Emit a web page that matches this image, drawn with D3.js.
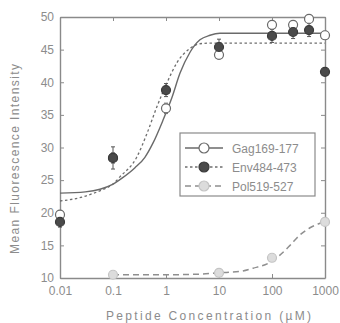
<!DOCTYPE html>
<html>
<head>
<meta charset="utf-8">
<script src="https://cdn.jsdelivr.net/npm/d3@7"></script>
<style>
  body { margin: 0; background: #fff; }
  svg { display: block; font-family: "Liberation Sans", Arial, sans-serif; }
</style>
</head>
<body>
<div id="chart"></div>
<script>
// peptide concentrations (uM)
const gagConc = [0.01, 0.1, 1, 10, 100, 250, 500, 1000];
const gagValues = [19.7, 28.4, 36.0, 44.2, 48.8, 48.8, 49.7, 47.2];
const gagErr = [0.6, 0.8, 0.8, 0.6, 0.6, 0.6, 0.6, 0.6];

const envConc = [0.01, 0.1, 1, 10, 100, 250, 500, 1000];
const envValues = [18.6, 28.4, 38.8, 45.4, 47.1, 47.7, 48.0, 41.6];
const envErr = [0.8, 1.7, 1.0, 1.2, 1.0, 1.0, 1.0, 0.5];

const polConc = [0.1, 10, 100, 1000];
const polValues = [10.5, 10.8, 13.1, 18.6];

// fitted curves
const gagFitConc = [0.01, 0.03, 0.057, 0.096, 0.148, 0.26, 0.40, 0.57, 0.88, 1.3, 1.84, 2.84, 4.37, 6.76, 10.4, 100, 1000];
const gagFitValues = [23.0, 23.2, 23.6, 24.3, 25.3, 26.9, 28.5, 30.7, 34.2, 37.7, 41.4, 44.6, 46.5, 47.2, 47.5, 47.5, 47.5];
const envFitConc = [0.01, 0.026, 0.04, 0.062, 0.1, 0.135, 0.28, 0.44, 0.67, 1.04, 1.61, 2.84, 4.37, 6.76, 100, 1000];
const envFitValues = [21.8, 22.4, 22.9, 23.5, 24.4, 25.5, 28.5, 32.2, 36.2, 39.9, 43.0, 45.2, 45.9, 46.0, 46.0, 46.0];
const polFitConc = [0.1, 1, 4.4, 10, 25, 44, 92, 141, 219, 337, 521, 806, 1000];
const polFitValues = [10.5, 10.5, 10.6, 10.8, 11.0, 11.5, 12.4, 13.5, 15.0, 16.6, 17.7, 18.4, 18.7];

const xTicks = [0.01, 0.1, 1, 10, 100, 1000];
const xTickLabels = ["0.01", "0.1", "1", "10", "100", "1000"];
const yTicks = [10, 15, 20, 25, 30, 35, 40, 45, 50];

const legendNames = ["Gag169-177", "Env484-473", "Pol519-527"];

const W = 340, H = 323;
const M = { left: 60, right: 15, top: 17, bottom: 45 };
const AXIS = "#8a8a8a";
const TEXT = "#8c8c8c";

const svg = d3.select("#chart").append("svg")
  .attr("width", W).attr("height", H);

svg.append("rect").attr("width", W).attr("height", H).attr("fill", "#fff");

const x = d3.scaleLog().domain([0.01, 1000]).range([M.left, W - M.right]);
const y = d3.scaleLinear().domain([10, 50]).range([H - M.bottom, M.top]);

// axes (ticks inward on all four sides)
const fmt = d => xTickLabels[xTicks.indexOf(d)];
svg.append("g").attr("class", "x-axis")
  .attr("transform", `translate(0,${y(10)})`)
  .call(d3.axisBottom(x).tickValues(xTicks).tickFormat(fmt).tickSizeInner(-4).tickSizeOuter(0).tickPadding(8));
svg.append("g")
  .attr("transform", `translate(0,${y(50)})`)
  .call(d3.axisTop(x).tickValues(xTicks).tickFormat("").tickSizeInner(-4).tickSizeOuter(0));
svg.append("g").attr("class", "y-axis")
  .attr("transform", `translate(${x(0.01)},0)`)
  .call(d3.axisLeft(y).tickValues(yTicks).tickSizeInner(-4).tickSizeOuter(0).tickPadding(6));
svg.append("g")
  .attr("transform", `translate(${x(1000)},0)`)
  .call(d3.axisRight(y).tickValues(yTicks).tickFormat("").tickSizeInner(-4).tickSizeOuter(0));

svg.selectAll(".domain").attr("stroke", AXIS).attr("stroke-width", 1.4);
svg.selectAll(".tick line").attr("stroke", AXIS).attr("stroke-width", 1);
svg.selectAll(".tick text").attr("fill", TEXT).attr("font-size", "12px");

// axis titles
svg.append("text")
  .attr("x", (x(0.01) + x(1000)) / 2 + 16)
  .attr("y", 320)
  .attr("text-anchor", "middle")
  .attr("font-size", "12px")
  .attr("fill", TEXT)
  .attr("textLength", 205)
  .text("Peptide Concentration (\u00b5M)");
svg.append("text")
  .attr("transform", `translate(19,${159}) rotate(-90)`)
  .attr("text-anchor", "middle")
  .attr("font-size", "12px")
  .attr("fill", TEXT)
  .attr("textLength", 190)
  .text("Mean Fluorescence Intensity");

// fitted curves
const line = d3.line().x(d => x(d[0])).y(d => y(d[1])).curve(d3.curveMonotoneX);
const zip = (a, b) => a.map((v, i) => [v, b[i]]);

svg.append("path").datum(zip(polFitConc, polFitValues))
  .attr("fill", "none").attr("stroke", "#8f8f8f").attr("stroke-width", 1.5)
  .attr("stroke-dasharray", "6,4").attr("d", line);
svg.append("path").datum(zip(envFitConc, envFitValues))
  .attr("fill", "none").attr("stroke", "#6e6e6e").attr("stroke-width", 1.3)
  .attr("stroke-dasharray", "2.5,2.5").attr("d", line);
svg.append("path").datum(zip(gagFitConc, gagFitValues))
  .attr("fill", "none").attr("stroke", "#6a6a6a").attr("stroke-width", 1.4).attr("d", line);

// error bars
function errorBars(conc, vals, errs, color) {
  const g = svg.append("g").attr("stroke", color).attr("stroke-width", 1);
  conc.forEach((c, i) => {
    const cx = x(c), y1 = y(vals[i] - errs[i]), y2 = y(vals[i] + errs[i]);
    g.append("line").attr("x1", cx).attr("x2", cx).attr("y1", y1).attr("y2", y2);
    g.append("line").attr("x1", cx - 2).attr("x2", cx + 2).attr("y1", y1).attr("y2", y1);
    g.append("line").attr("x1", cx - 2).attr("x2", cx + 2).attr("y1", y2).attr("y2", y2);
  });
}
errorBars(gagConc, gagValues, gagErr, "#777");
errorBars(envConc, envValues, envErr, "#555");

// markers
const styles = [
  { fill: "#fff", stroke: "#6a6a6a" },
  { fill: "#4a4a4a", stroke: "#3a3a3a" },
  { fill: "#dcdcdc", stroke: "#c4c4c4" }
];
function dots(conc, vals, st) {
  svg.append("g").selectAll("circle")
    .data(zip(conc, vals))
    .enter().append("circle")
    .attr("cx", d => x(d[0]))
    .attr("cy", d => y(d[1]))
    .attr("r", 4.5)
    .attr("fill", st.fill)
    .attr("stroke", st.stroke)
    .attr("stroke-width", 1.2);
}
dots(polConc, polValues, styles[2]);
dots(gagConc, gagValues, styles[0]);
dots(envConc, envValues, styles[1]);

// legend
const lg = svg.append("g").attr("transform", "translate(180,133)");
lg.append("rect").attr("width", 135).attr("height", 63)
  .attr("fill", "#fff").attr("stroke", AXIS).attr("stroke-width", 1.2);
const dashes = [null, "2.5,2.5", "6,4"];
const lineCols = ["#6a6a6a", "#6e6e6e", "#8f8f8f"];
legendNames.forEach((name, i) => {
  const ly = 15 + i * 19;
  lg.append("line").attr("x1", 5).attr("x2", 43).attr("y1", ly).attr("y2", ly)
    .attr("stroke", lineCols[i]).attr("stroke-width", 1.3)
    .attr("stroke-dasharray", dashes[i]);
  lg.append("circle").attr("cx", 24).attr("cy", ly).attr("r", 5)
    .attr("fill", styles[i].fill).attr("stroke", styles[i].stroke).attr("stroke-width", 1.2);
  lg.append("text").attr("x", 52).attr("y", ly + 4.5)
    .attr("font-size", "12px").attr("fill", TEXT).text(name);
});
</script>
</body>
</html>
